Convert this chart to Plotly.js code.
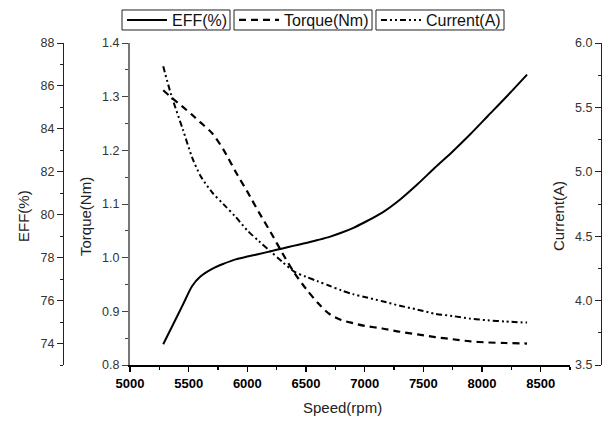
<!DOCTYPE html>
<html>
<head>
<meta charset="utf-8">
<script src="https://cdn.plot.ly/plotly-3.0.1.min.js"></script>
<style>html,body{margin:0;padding:0;background:#fff;}#chart{width:613px;height:421px;}</style>
</head>
<body>
<div id="chart"></div>
<script>
// Speed (rpm)
const speed = [5283, 5350, 5450, 5530, 5600, 5700, 5800, 5900, 6000, 6100, 6200, 6300, 6400, 6500, 6600, 6700, 6800, 6900, 7000, 7150, 7300, 7450, 7600, 7750, 7900, 8050, 8200, 8384];
// Efficiency (%)
const eff = [73.97, 74.7, 75.8, 76.68, 77.12, 77.48, 77.72, 77.92, 78.05, 78.17, 78.3, 78.43, 78.56, 78.68, 78.82, 78.97, 79.16, 79.38, 79.65, 80.1, 80.7, 81.42, 82.2, 82.95, 83.75, 84.6, 85.45, 86.53];
// Torque (Nm)
const torque = [1.312, 1.299, 1.281, 1.266, 1.252, 1.232, 1.200, 1.160, 1.123, 1.084, 1.047, 1.008, 0.972, 0.942, 0.916, 0.895, 0.884, 0.878, 0.873, 0.868, 0.862, 0.857, 0.852, 0.848, 0.844, 0.842, 0.841, 0.840];
// Current (A)
const current = [5.82, 5.60, 5.33, 5.11, 4.97, 4.84, 4.745, 4.65, 4.545, 4.46, 4.38, 4.30, 4.225, 4.185, 4.15, 4.115, 4.08, 4.05, 4.028, 3.995, 3.96, 3.93, 3.898, 3.88, 3.86, 3.847, 3.838, 3.829];

const seriesNames = ['EFF(%)', 'Torque(Nm)', 'Current(A)'];
const axisTitles = {x: 'Speed(rpm)', eff: 'EFF(%)', torque: 'Torque(Nm)', current: 'Current(A)'};

const FONT = 'Arial, "Liberation Sans", sans-serif';

const traces = [
  {x: speed, y: eff, name: seriesNames[0], type: 'scatter', mode: 'lines', yaxis: 'y2', legend: 'legend',
   line: {color: '#000', width: 2, shape: 'spline', smoothing: 0.8}},
  {x: speed, y: torque, name: seriesNames[1], type: 'scatter', mode: 'lines', yaxis: 'y', legend: 'legend2',
   line: {color: '#000', width: 2.2, dash: '7px,5px', shape: 'spline', smoothing: 0.8}},
  {x: speed, y: current, name: seriesNames[2], type: 'scatter', mode: 'lines', yaxis: 'y3', legend: 'legend3',
   line: {color: '#000', width: 2, dash: '6px,3px,2px,3px,2px,3px', shape: 'spline', smoothing: 0.8}}
];

const legendBase = {
  orientation: 'h', xanchor: 'left', yanchor: 'middle', y: 1.0714,
  bgcolor: 'rgba(0,0,0,0)', borderwidth: 0, itemwidth: 40,
  font: {family: FONT, size: 16, color: '#111'}
};

// legend frames (paper coords)
const boxStyle = {type: 'rect', xref: 'paper', yref: 'paper', y0: 1.0404, y1: 1.1025,
                  line: {color: '#222', width: 1}, fillcolor: 'rgba(0,0,0,0)', layer: 'above'};

const yTickFont = {family: FONT, size: 12.5, color: '#333'};
const titleFont = {family: FONT, size: 15, color: '#222'};

const titleAnn = {xref: 'paper', yref: 'paper', showarrow: false, font: titleFont,
                  xanchor: 'center', yanchor: 'middle'};

const layout = {
  width: 613, height: 421,
  margin: {l: 10, r: 5, t: 43, b: 56, autoexpand: false},
  paper_bgcolor: '#fff', plot_bgcolor: '#fff',
  font: {family: FONT},
  showlegend: true,
  legend: Object.assign({}, legendBase, {x: 0.1873}),
  legend2: Object.assign({}, legendBase, {x: 0.3746}),
  legend3: Object.assign({}, legendBase, {x: 0.612}),
  shapes: [
    Object.assign({}, boxStyle, {x0: 0.1873, x1: 0.3679}),
    Object.assign({}, boxStyle, {x0: 0.3746, x1: 0.6054}),
    Object.assign({}, boxStyle, {x0: 0.6120, x1: 0.8261})
  ],
  annotations: [
    Object.assign({}, titleAnn, {text: axisTitles.x, x: 0.5552, y: -0.1335}),
    Object.assign({}, titleAnn, {text: axisTitles.eff, x: 0.0217, y: 0.4627, textangle: -90}),
    Object.assign({}, titleAnn, {text: axisTitles.torque, x: 0.1254, y: 0.4627, textangle: -90}),
    Object.assign({}, titleAnn, {text: axisTitles.current, x: 0.9164, y: 0.4627, textangle: -90})
  ],
  xaxis: {
    domain: [0.20067, 0.93645], range: [5000, 8750], autorange: false,
    dtick: 500, tick0: 0, ticks: 'outside', ticklen: 5, tickwidth: 1.2, tickcolor: '#000',
    minor: {dtick: 250, ticks: 'outside', ticklen: 3, tickcolor: '#000'},
    showline: true, linecolor: '#000', linewidth: 2, showgrid: false, zeroline: false,
    tickfont: {family: FONT, size: 13, color: '#000', weight: 'bold'}
  },
  yaxis: {
    range: [0.8, 1.4], autorange: false, anchor: 'x', side: 'left',
    dtick: 0.1, tick0: 0.8, tickformat: '.1f', ticks: 'outside', ticklen: 6, tickcolor: '#444',
    minor: {dtick: 0.05, ticks: 'outside', ticklen: 3, tickcolor: '#444'},
    showline: true, linecolor: '#777', linewidth: 2, showgrid: false, zeroline: false,
    tickfont: yTickFont
  },
  yaxis2: {
    range: [73, 88], autorange: false, overlaying: 'y', anchor: 'free', position: 0.08863, side: 'left',
    dtick: 2, tick0: 74, ticks: 'outside', ticklen: 6, tickcolor: '#222',
    minor: {dtick: 1, ticks: 'outside', ticklen: 3, tickcolor: '#222'},
    showline: true, linecolor: '#222', linewidth: 1, showgrid: false, zeroline: false,
    tickfont: yTickFont
  },
  yaxis3: {
    range: [3.5, 6.0], autorange: false, overlaying: 'y', anchor: 'free', position: 0.98829, side: 'left',
    dtick: 0.5, tick0: 3.5, tickformat: '.1f', ticks: 'outside', ticklen: 6, tickcolor: '#222',
    minor: {dtick: 0.25, ticks: 'outside', ticklen: 3, tickcolor: '#222'},
    showline: true, linecolor: '#222', linewidth: 1, showgrid: false, zeroline: false,
    tickfont: yTickFont
  }
};

Plotly.newPlot('chart', traces, layout, {displayModeBar: false, staticPlot: true});
</script>
</body>
</html>
